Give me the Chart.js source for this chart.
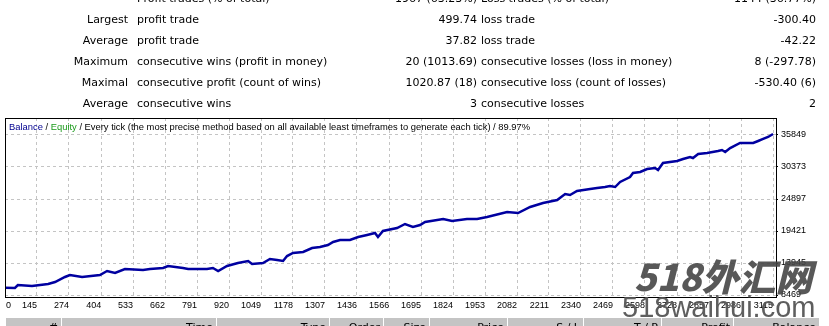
<!DOCTYPE html>
<html>
<head>
<meta charset="utf-8">
<script src="https://cdn.jsdelivr.net/npm/chart.js@4.4.1/dist/chart.umd.min.js"></script>
<style>
  html, body { margin: 0; padding: 0; background: #fff; }
  #wrap { position: relative; width: 829px; height: 326px; overflow: hidden;
          font-family: 'Liberation Sans', Arial, sans-serif; color: #000; }
  #chart { position: absolute; left: 0; top: 0; }
  .t { position: absolute; font-family: 'DejaVu Sans', sans-serif; font-size: 11px; line-height: 14px; white-space: nowrap; }
  .r { text-align: right; }
  .cap { position: absolute; left: 9px; top: 121px; font-size: 9.4px; line-height: 11px; white-space: nowrap; }
  .hd { position: absolute; top: 318px; height: 14px; background: #c4c4c4; font-family: 'DejaVu Sans', sans-serif;
        font-size: 11px; line-height: 14px; text-align: right; box-sizing: border-box; padding: 3px 3px 0 0; }
  .wm1 { position: absolute; left: 634px; top: 255px; font: italic 900 37px 'Noto Sans CJK SC', sans-serif;
         line-height: 40px; color: rgba(70,70,70,0.9); white-space: nowrap; }
  .wm2 { position: absolute; left: 622px; top: 291px; font: 29px 'Liberation Sans', Arial, sans-serif;
         line-height: 32px; color: rgba(85,85,85,0.95); white-space: nowrap; }
</style>
</head>
<body>
<div id="wrap">
  <canvas id="chart" width="829" height="326"></canvas>
  <div class="cap"><span style="color:#000090">Balance</span> / <span style="color:#1a9a1a">Equity</span> / Every tick (the most precise method based on all available least timeframes to generate each tick) / 89.97%</div>
  <div class="wm1">518外汇网</div>
  <div class="wm2">518waihui.com</div>
</div>
<script>
// summary table above the chart
const rowHeads   = ['', 'Largest', 'Average', 'Maximum', 'Maximal', 'Average'];
const winNames   = ['Profit trades (% of total)', 'profit trade', 'profit trade',
                    'consecutive wins (profit in money)', 'consecutive profit (count of wins)', 'consecutive wins'];
const winValues  = ['1967 (63.23%)', '499.74', '37.82', '20 (1013.69)', '1020.87 (18)', '3'];
const lossNames  = ['Loss trades (% of total)', 'loss trade', 'loss trade',
                    'consecutive losses (loss in money)', 'consecutive loss (count of losses)', 'consecutive losses'];
const lossValues = ['1144 (36.77%)', '-300.40', '-42.22', '8 (-297.78)', '-530.40 (6)', '2'];

// trades table header (cut off at the bottom)
const headNames = ['#', 'Time', 'Type', 'Order', 'Size', 'Price', 'S / L', 'T / P', 'Profit', 'Balance'];
const headEdges = [6, 62, 217, 330, 384, 430, 508, 584, 662, 734, 820];

// balance curve
const tradeNo = [0, 56, 68, 125, 190, 218, 258, 278, 327, 399, 428, 460, 500, 573, 601, 654, 674, 734, 755, 831,
                 855, 876, 912, 956, 997, 1013, 1057, 1085, 1114, 1138, 1154, 1178, 1219, 1255, 1287, 1319, 1340, 1368, 1408, 1441,
                 1477, 1509, 1521, 1541, 1598, 1630, 1662, 1691, 1711, 1784, 1820, 1880, 1921, 1961, 2042, 2086, 2135, 2187, 2244, 2276,
                 2296, 2324, 2377, 2405, 2437, 2457, 2478, 2498, 2538, 2550, 2579, 2607, 2639, 2651, 2671, 2728, 2752, 2780, 2792, 2813,
                 2849, 2893, 2909, 2922, 2942, 2982, 3035, 3055, 3075, 3095, 3115];
const balance = [9700, 9670, 10180, 10010, 10350, 10690, 11550, 11890, 11550, 11890, 12580, 12230, 12920, 12750, 12920, 13090, 13430, 13090, 12920, 12920,
                 13090, 12580, 13430, 13950, 14290, 13770, 13950, 14630, 14460, 14290, 15140, 15660, 15830, 16510, 16680, 17030, 17540, 17880, 17880, 18390,
                 18740, 19080, 18390, 19420, 19930, 20620, 20110, 20450, 20960, 21480, 21130, 21480, 21480, 21820, 22670, 22500, 23530, 24210, 24730, 25750,
                 25580, 26270, 26610, 26780, 26950, 27120, 26950, 27810, 28660, 29350, 29520, 30030, 30200, 29860, 31060, 31400, 31740, 32080, 31910, 32600,
                 32770, 33110, 33280, 32940, 33620, 34480, 34480, 34820, 35170, 35510, 36020];

const xTicks = [0, 145, 274, 404, 533, 662, 791, 920, 1049, 1178, 1307, 1436, 1566, 1695, 1824,
                1953, 2082, 2211, 2340, 2469, 2598, 2728, 2857, 2986, 3115];
const yTicks = [8469, 13945, 19421, 24897, 30373, 35849];

const xMin = 16, xMax = 3127;
const xZeroAt = 40;           // the "0" label sits just inside the left edge
const yMin = 8127, yMax = 38758;

const wrap = document.getElementById('wrap');
const rowTop = [-8, 13, 34, 55, 76, 97];
function addText(txt, left, top, right) {
    const d = document.createElement('div');
    d.className = 't' + (right ? ' r' : '');
    d.textContent = txt;
    d.style.top = top + 'px';
    if (right) { d.style.right = (829 - left) + 'px'; } else { d.style.left = left + 'px'; }
    wrap.appendChild(d);
}
rowHeads.forEach((h, i) => {
    addText(h, 128, rowTop[i], true);
    addText(winNames[i], 137, rowTop[i], false);
    addText(winValues[i], 477, rowTop[i], true);
    addText(lossNames[i], 481, rowTop[i], false);
    addText(lossValues[i], 816, rowTop[i], true);
});
headNames.forEach((h, i) => {
    const d = document.createElement('div');
    d.className = 'hd';
    d.style.left = headEdges[i] + 'px';
    d.style.width = (headEdges[i + 1] - headEdges[i] - 1) + 'px';
    d.textContent = h;
    wrap.appendChild(d);
});

const frame = {
    id: 'frame',
    afterDraw(chart) {
        const a = chart.chartArea, c = chart.ctx;
        c.save();
        c.strokeStyle = '#000';
        c.lineWidth = 1;
        c.strokeRect(a.left + 0.5, a.top + 0.5, a.right - a.left, a.bottom - a.top);
        c.restore();
    }
};

Chart.defaults.font.family = "'Liberation Sans', Arial, sans-serif";
Chart.defaults.font.size = 9;
Chart.defaults.color = '#000';

new Chart(document.getElementById('chart'), {
    type: 'line',
    data: {
        datasets: [{
            label: 'Balance',
            data: tradeNo.map((t, i) => ({ x: t, y: balance[i] })),
            borderColor: '#0000a0',
            borderWidth: 2.5,
            pointRadius: 0,
            tension: 0,
            fill: false
        }]
    },
    options: {
        responsive: false,
        animation: false,
        layout: { padding: { left: 5, top: 118, right: 0, bottom: 0 } },
        plugins: { legend: { display: false }, tooltip: { enabled: false } },
        scales: {
            x: {
                type: 'linear',
                min: xMin,
                max: xMax,
                afterBuildTicks: s => { s.ticks = xTicks.map((v, i) => ({ value: i === 0 ? xZeroAt : v })); },
                afterFit: s => { s.height = 29; s.paddingLeft = 0; s.paddingRight = 0; },
                ticks: {
                    autoSkip: false, maxRotation: 0, align: 'end', padding: 3,
                    callback: (v, i) => String(xTicks[i])
                },
                grid: {
                    color: c => c.index === 0 ? 'rgba(0,0,0,0)' : '#c4c4c4',
                    drawTicks: false
                },
                border: { display: false, dash: [3, 3] }
            },
            y: {
                position: 'right',
                min: yMin,
                max: yMax,
                afterBuildTicks: s => { s.ticks = yTicks.map(v => ({ value: v })); },
                afterFit: s => { s.width = 53; s.paddingTop = 0; s.paddingBottom = 0; },
                ticks: { padding: 3, callback: v => String(v) },
                grid: { color: '#c4c4c4', tickColor: '#000', tickLength: 2, tickBorderDash: [] },
                border: { display: false, dash: [3, 3] }
            }
        }
    },
    plugins: [frame]
});
</script>
</body>
</html>
